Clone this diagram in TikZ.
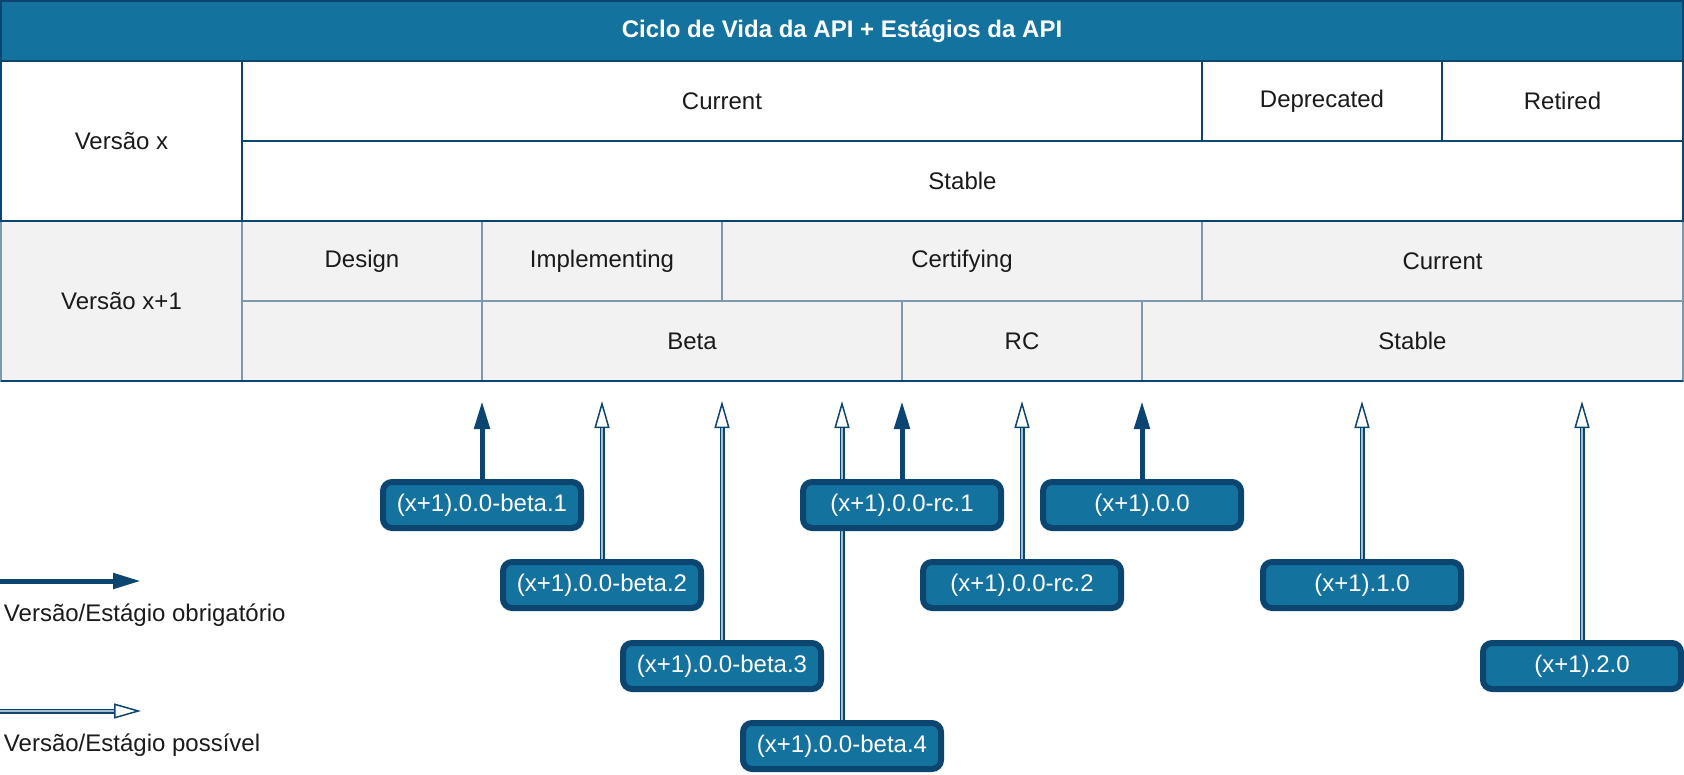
\documentclass[tikz,border=0pt]{standalone}
\usepackage{fontspec}
\setmainfont{Liberation Sans}
\usetikzlibrary{arrows.meta,calc}
\definecolor{hdr}{HTML}{14729E}
\definecolor{dk}{HTML}{0C4570}
\definecolor{grl}{HTML}{7A99AF}
\definecolor{lowfill}{HTML}{F2F2F2}
\definecolor{shaftc}{HTML}{A3BFD3}
\definecolor{txt}{HTML}{1A1A1A}
\newcommand\possarrow[2]{%
  \draw[mayhead] (#1) -- (#2);
  \draw[mayshaft] (#1) -- ($(#2)!27pt!(#1)$);
}
\begin{document}
\begin{tikzpicture}[x=1pt,y=-1pt,
  every node/.style={font=\fontsize{24}{28}\selectfont, inner sep=0pt, outer sep=0pt},
  upcell/.style={draw=dk, fill=white, line width=2pt, anchor=north west, text=txt},
  lowcell/.style={draw=grl, fill=lowfill, line width=2pt, anchor=north west, text=txt},
  titlecell/.style={draw=dk, fill=hdr, line width=2.5pt, anchor=north west, text=white,
    font=\fontsize{24}{28}\selectfont\bfseries},
  verbox/.style={draw=dk, fill=hdr, line width=6pt, rounded corners=9pt,
    minimum width=198pt, minimum height=46pt, text=white},
  mustarrow/.style={draw=dk, line width=5pt, -{Triangle[length=28pt,width=15pt]}},
  mayhead/.style={draw=dk, line width=1.5pt, -{Triangle[open,length=27pt,width=15pt,fill=white]}},
  mayshaft/.style={draw=dk, line width=1.3pt, double=shaftc, double distance=2.4pt},
  legtext/.style={anchor=west, text=txt}
]
\useasboundingbox (0,0) rectangle (1684,774);

% lower section (Versao x+1)
\node[lowcell, minimum width=241pt, minimum height=160pt] (vx1) at (1,221) {Versão x+1};
\node[lowcell, minimum width=240pt, minimum height=80pt] (design) at (242,221) {Design};
\node[lowcell, minimum width=240pt, minimum height=80pt] (impl) at (482,221) {Implementing};
\node[lowcell, minimum width=480pt, minimum height=80pt] (cert) at (722,221) {Certifying};
\node[lowcell, minimum width=481pt, minimum height=80pt] (cur2) at (1202,221) {Current};
\node[lowcell, minimum width=240pt, minimum height=80pt] (empty) at (242,301) {};
\node[lowcell, minimum width=420pt, minimum height=80pt] (beta) at (482,301) {Beta};
\node[lowcell, minimum width=240pt, minimum height=80pt] (rc) at (902,301) {RC};
\node[lowcell, minimum width=541pt, minimum height=80pt] (st2) at (1142,301) {Stable};
\draw[draw=dk, line width=2pt] (vx1.south west) -- (st2.south east);

% upper section (Versao x)
\node[upcell, minimum width=241pt, minimum height=160pt] (vx) at (1,61) {Versão x};
\node[upcell, minimum width=960pt, minimum height=80pt] (cur1) at (242,61) {Current};
\node[upcell, minimum width=240pt, minimum height=80pt] (depr) at (1202,61) {Deprecated};
\node[upcell, minimum width=241pt, minimum height=80pt] (ret) at (1442,61) {Retired};
\node[upcell, minimum width=1441pt, minimum height=80pt] (st1) at (242,141) {Stable};

% title
\node[titlecell, minimum width=1682pt, minimum height=60pt] (title) at (1,1) {Ciclo de Vida da API + Estágios da API};

% version boxes (positions)
\coordinate (tipline) at (0,401);
\coordinate (p1) at (482,505);
\coordinate (p2) at (602,585);
\coordinate (p3) at (722,666);
\coordinate (p4) at (842,746);
\coordinate (p5) at (902,505);
\coordinate (p6) at (1022,585);
\coordinate (p7) at (1142,505);
\coordinate (p8) at (1362,585);
\coordinate (p9) at (1582,666);

% arrow tips at the table
\foreach \i in {1,...,9} { \coordinate (t\i) at (p\i |- tipline); }

% arrow feet at the box tops
\foreach \i in {1,...,9} { \coordinate (b\i n) at ($(p\i)+(0,-26)$); }

\draw[mustarrow] (b1n) -- (t1);
\possarrow{b2n}{t2}
\possarrow{b3n}{t3}
\possarrow{b4n}{t4}
\draw[mustarrow] (b5n) -- (t5);
\possarrow{b6n}{t6}
\draw[mustarrow] (b7n) -- (t7);
\possarrow{b8n}{t8}
\possarrow{b9n}{t9}

\node[verbox] (b1) at (p1) {(x+1).0.0-beta.1};
\node[verbox] (b2) at (p2) {(x+1).0.0-beta.2};
\node[verbox] (b3) at (p3) {(x+1).0.0-beta.3};
\node[verbox] (b4) at (p4) {(x+1).0.0-beta.4};
\node[verbox] (b5) at (p5) {(x+1).0.0-rc.1};
\node[verbox] (b6) at (p6) {(x+1).0.0-rc.2};
\node[verbox] (b7) at (p7) {(x+1).0.0};
\node[verbox] (b8) at (p8) {(x+1).1.0};
\node[verbox] (b9) at (p9) {(x+1).2.0};

% legend
\coordinate (l1a) at (0,581);
\coordinate (l1b) at (141,581);
\draw[mustarrow] (l1a) -- (l1b);
\node[legtext] (l1t) at (4,615) {Versão/Estágio obrigatório};
\coordinate (l2a) at (0,711);
\coordinate (l2b) at (141,711);
\possarrow{l2a}{l2b}
\node[legtext] (l2t) at (4,745) {Versão/Estágio possível};
\end{tikzpicture}
\end{document}
